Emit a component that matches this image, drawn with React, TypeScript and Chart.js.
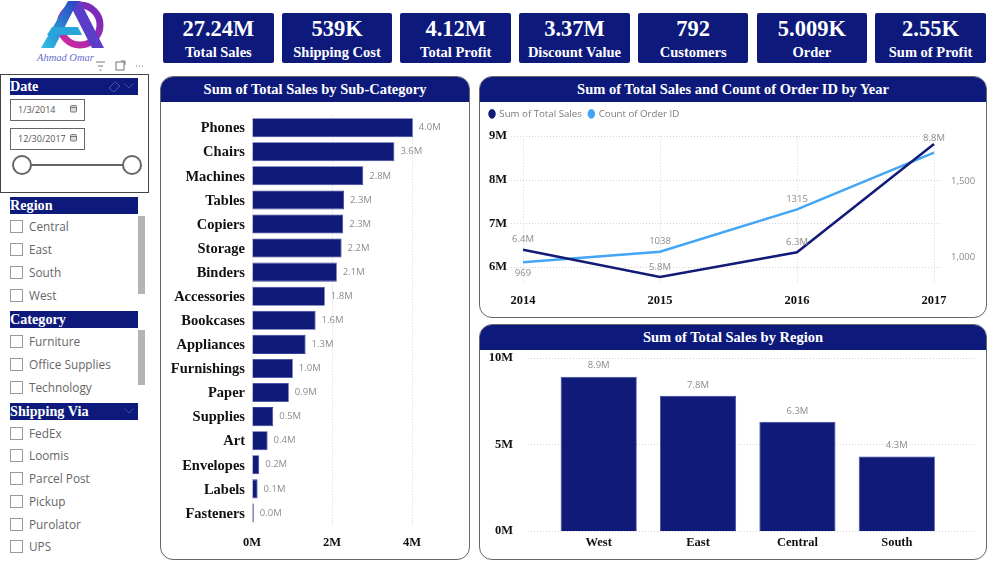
import React, { useEffect, useRef } from 'react';
import Chart, { ChartConfiguration } from 'chart.js/auto';

const NAVY = '#0d1a7c';
const BAR = '#101a78';
const SERIF = '"Liberation Serif", serif';
const SANS = '"Open Sans", sans-serif';
const LABEL_GRAY = '#8c8c8c';

const kpiValues = ['27.24M', '539K', '4.12M', '3.37M', '792', '5.009K', '2.55K'];
const kpiNames = ['Total Sales', 'Shipping Cost', 'Total Profit', 'Discount Value', 'Customers', 'Order', 'Sum of Profit'];

const regionItems = ['Central', 'East', 'South', 'West'];
const categoryItems = ['Furniture', 'Office Supplies', 'Technology'];
const shippingItems = ['FedEx', 'Loomis', 'Parcel Post', 'Pickup', 'Purolator', 'UPS'];

const subCategories = ['Phones', 'Chairs', 'Machines', 'Tables', 'Copiers', 'Storage', 'Binders', 'Accessories', 'Bookcases', 'Appliances', 'Furnishings', 'Paper', 'Supplies', 'Art', 'Envelopes', 'Labels', 'Fasteners'];
const subCategorySales = [4.02, 3.56, 2.78, 2.3, 2.28, 2.24, 2.12, 1.82, 1.59, 1.34, 1.02, 0.92, 0.53, 0.39, 0.18, 0.14, 0.045];

const years = ['2014', '2015', '2016', '2017'];
const yearSales = [6.4, 5.78, 6.34, 8.81];
const yearOrders = [969, 1038, 1315, 1687];
const orderTicks = [1000, 1500];

const regions = ['West', 'East', 'Central', 'South'];
const regionSales = [8.9, 7.8, 6.3, 4.3];

const millions = (v: number) => `${v.toFixed(1)}M`;

// grey value labels, one set per dataset
const valueLabels = {
    id: 'valueLabels',
    afterDatasetsDraw(chart: any, _args: any, opts: any) {
        const { ctx, chartArea } = chart;
        ctx.save();
        ctx.font = `9.5px ${SANS}`;
        ctx.fillStyle = LABEL_GRAY;
        ctx.textBaseline = 'middle';
        chart.data.datasets.forEach((ds: any, di: number) => {
            const fmt = opts.formats[di];
            chart.getDatasetMeta(di).data.forEach((el: any, i: number) => {
                const text = fmt(ds.data[i], i);
                if (!text) return;
                if (opts.mode === 'right') {
                    ctx.textAlign = 'left';
                    ctx.fillText(text, el.x + 6, el.y);
                } else if (opts.mode === 'above') {
                    ctx.textAlign = 'center';
                    ctx.fillText(text, el.x, el.y - 11);
                } else {
                    const below = opts.below && opts.below[di] === i;
                    ctx.textAlign = 'center';
                    ctx.fillText(text, el.x, below ? el.y + 11 : Math.max(chartArea.top + 3, el.y - 10));
                }
            });
        });
        ctx.restore();
    }
};

// dotted y grid that runs a bit past the plot area
const wideGrid = {
    id: 'wideGrid',
    beforeDatasetsDraw(chart: any, _args: any, opts: any) {
        const { ctx, chartArea, scales } = chart;
        ctx.save();
        ctx.strokeStyle = '#d4d4d4';
        ctx.lineWidth = 1;
        ctx.setLineDash([1, 2]);
        scales.y.ticks.forEach((t: any) => {
            const y = Math.round(scales.y.getPixelForValue(t.value)) + 0.5;
            ctx.beginPath();
            ctx.moveTo(chartArea.left - opts.left, y);
            ctx.lineTo(chartArea.right + opts.right, y);
            ctx.stroke();
        });
        ctx.restore();
    }
};

// legend needs more room under it than its own padding gives
const legendGap = {
    id: 'legendGap',
    beforeInit(chart: any) {
        const fit = chart.legend.fit;
        chart.legend.fit = function () {
            fit.call(this);
            this.height += 7;
        };
    }
};

const axisFont = { family: SERIF, weight: 'bold' as const, size: 12.5 };
// tick length pushes the labels out, tick padding would also eat the plot height
const hiddenTicks = (tickLength: number) => ({ display: false, drawOnChartArea: false, drawTicks: true, tickLength, tickColor: 'transparent' });
const noBorder = { display: false };

const subCategoryConfig: ChartConfiguration<'bar'> = {
    type: 'bar',
    data: {
        labels: subCategories,
        datasets: [{
            data: subCategorySales,
            backgroundColor: BAR,
            borderColor: '#35429f',
            borderWidth: 0.8,
            barPercentage: 0.79,
            categoryPercentage: 1
        }]
    },
    options: {
        indexAxis: 'y',
        responsive: false,
        animation: false,
        layout: { padding: { top: 13.6, right: 41 } },
        plugins: {
            legend: { display: false },
            tooltip: { enabled: false },
            valueLabels: { mode: 'right', formats: [millions] }
        } as any,
        scales: {
            x: {
                min: 0,
                max: 4.4,
                afterFit: (s: any) => { s.height = 34; },
                grid: { color: '#d4d4d4', drawTicks: true, tickLength: 10, tickColor: 'transparent' },
                border: { display: false, dash: [1, 2] },
                ticks: { stepSize: 2, includeBounds: false, padding: 0, color: '#111', font: axisFont, callback: (v: any) => `${v}M` }
            },
            y: {
                afterFit: (s: any) => { s.width = 91; },
                grid: { drawOnChartArea: false, drawTicks: true, tickLength: 7, tickColor: 'transparent' },
                border: noBorder,
                ticks: { autoSkip: false, padding: 0, labelOffset: 1, color: '#111', font: { family: SERIF, weight: 'bold', size: 14.5 } }
            }
        }
    },
    plugins: [valueLabels]
};

const yearConfig: ChartConfiguration<'line'> = {
    type: 'line',
    data: {
        labels: years,
        datasets: [
            {
                label: 'Sum of Total Sales',
                data: yearSales,
                yAxisID: 'y',
                borderColor: '#131a78',
                backgroundColor: '#131a78',
                borderWidth: 2.5,
                pointRadius: 0,
                tension: 0
            },
            {
                label: 'Count of Order ID',
                data: yearOrders,
                yAxisID: 'y1',
                borderColor: '#42a5f5',
                backgroundColor: '#42a5f5',
                borderWidth: 2.5,
                pointRadius: 0,
                tension: 0
            }
        ]
    },
    options: {
        responsive: false,
        animation: false,
        layout: { padding: { left: 2.5 } },
        plugins: {
            legend: {
                display: true,
                position: 'top',
                align: 'start',
                labels: {
                    usePointStyle: true,
                    pointStyle: 'circle',
                    boxHeight: 5,
                    pointStyleWidth: 5,
                    padding: 7,
                    color: '#7a7a7a',
                    font: { family: SANS, size: 9.7 }
                }
            },
            tooltip: { enabled: false },
            wideGrid: { left: 12, right: 7 },
            valueLabels: {
                mode: 'line',
                below: [-1, 0],
                formats: [millions, (v: number, i: number) => (i === 3 ? '' : String(v))]
            }
        } as any,
        scales: {
            x: {
                afterFit: (s: any) => { s.height = 34; },
                grid: { color: '#d4d4d4', drawTicks: true, tickLength: 10, tickColor: 'transparent' },
                border: { display: false, dash: [1, 2] },
                ticks: { padding: 0, color: '#111', font: axisFont }
            },
            y: {
                min: 5.64,
                max: 9,
                afterFit: (s: any) => { s.width = 40.5; },
                grid: hiddenTicks(16),
                border: noBorder,
                ticks: { stepSize: 1, includeBounds: false, padding: 0, color: '#111', font: axisFont, callback: (v: any) => `${v}M` }
            },
            y1: {
                position: 'right',
                min: 833,
                max: 1798,
                afterBuildTicks: (s: any) => { s.ticks = orderTicks.map((value) => ({ value })); },
                afterFit: (s: any) => { s.width = 52; },
                grid: hiddenTicks(17),
                border: noBorder,
                ticks: { padding: 0, color: LABEL_GRAY, font: { family: SANS, size: 9.5 }, callback: (v: any) => Number(v).toLocaleString('en-US') }
            }
        }
    },
    plugins: [legendGap, wideGrid, valueLabels]
};

const regionConfig: ChartConfiguration<'bar'> = {
    type: 'bar',
    data: {
        labels: regions,
        datasets: [{
            data: regionSales,
            backgroundColor: BAR,
            borderColor: '#35429f',
            borderWidth: 0.8,
            barPercentage: 0.766,
            categoryPercentage: 1
        }]
    },
    options: {
        responsive: false,
        animation: false,
        layout: { padding: { top: 7.7, right: 39.5 } },
        plugins: {
            legend: { display: false },
            tooltip: { enabled: false },
            wideGrid: { left: 21, right: 29 },
            valueLabels: { mode: 'above', formats: [millions] }
        } as any,
        scales: {
            x: {
                afterFit: (s: any) => { s.height = 28; },
                grid: hiddenTicks(4),
                border: noBorder,
                ticks: { padding: 0, color: '#111', font: axisFont }
            },
            y: {
                min: 0,
                max: 10,
                afterFit: (s: any) => { s.width = 69; },
                grid: hiddenTicks(36),
                border: noBorder,
                ticks: { stepSize: 5, padding: 0, color: '#111', font: axisFont, callback: (v: any) => `${v}M` }
            }
        }
    },
    plugins: [wideGrid, valueLabels]
};

const ChartCanvas: React.FC<{ config: ChartConfiguration<any>; width: number; height: number }> = ({ config, width, height }) => {
    const canvasRef = useRef<HTMLCanvasElement>(null);

    useEffect(() => {
        const ctx = canvasRef.current?.getContext('2d');
        if (!ctx) return;
        const chart = new Chart(ctx, config);
        return () => chart.destroy();
    }, [config]);

    return <canvas ref={canvasRef} width={width} height={height} style={{ position: 'absolute', left: -0.5, top: 24.5, width, height }} />;
};

const box = (left: number, top: number, width: number, height: number): React.CSSProperties => ({
    position: 'absolute', left, top, width, height, boxSizing: 'border-box'
});

const ChartCard: React.FC<{ title: string; left: number; top: number; width: number; height: number; config: ChartConfiguration<any> }> = ({ title, left, top, width, height, config }) => (
    <div style={{ ...box(left, top, width, height), border: '1.5px solid #666', borderRadius: 13, overflow: 'hidden', background: '#fff' }}>
        <div style={{ height: 24.5, lineHeight: '25px', background: NAVY, color: '#fff', textAlign: 'center', fontFamily: SERIF, fontWeight: 700, fontSize: 14.5 }}>{title}</div>
        <ChartCanvas config={config} width={width - 2} height={height - 27} />
    </div>
);

const SlicerTitle: React.FC<{ title: string; top: number; chevron?: boolean; eraser?: boolean }> = ({ title, top, chevron, eraser }) => (
    <div style={{ ...box(10, top, 128, 17), background: NAVY, color: '#fff', fontFamily: SERIF, fontWeight: 700, fontSize: 14.2, lineHeight: '16px' }}>
        {title}
        {eraser && (
            <svg width="14" height="14" style={{ position: 'absolute', right: 16, top: 2 }}>
                <path d="M1 8 L7 2 L12 6 L6 12 Z" fill="none" stroke="#4a56a6" strokeWidth="1" />
            </svg>
        )}
        {chevron && (
            <svg width="10" height="6" style={{ position: 'absolute', right: 4, top: 5 }}>
                <path d="M0.5 0.5 L5 5 L9.5 0.5" fill="none" stroke="#3d4a9e" strokeWidth="1" />
            </svg>
        )}
    </div>
);

const CheckList: React.FC<{ items: string[]; first: number; step: number }> = ({ items, first, step }) => (
    <>
        {items.map((item, i) => (
            <React.Fragment key={item}>
                <div style={{ ...box(10, first + i * step - 6.5, 13, 13), border: '1px solid #9a9a9a', background: '#fff' }} />
                <div style={{ position: 'absolute', left: 29, top: first + i * step - 9.5, lineHeight: '18px', fontFamily: SANS, fontSize: 11.8, color: '#666', whiteSpace: 'nowrap' }}>{item}</div>
            </React.Fragment>
        ))}
    </>
);

const DateBox: React.FC<{ text: string; top: number }> = ({ text, top }) => (
    <div style={{ ...box(10, top, 75, 22), border: '1px solid #666', fontFamily: SANS, fontSize: 9, lineHeight: '20px', color: '#555', paddingLeft: 7 }}>
        {text}
        <svg width="8" height="8" style={{ position: 'absolute', right: 6, top: 5 }}>
            <rect x="0.5" y="0.5" width="6" height="6.5" rx="1" fill="#ddd" stroke="#777" />
            <line x1="0.5" y1="2.5" x2="6.5" y2="2.5" stroke="#777" />
        </svg>
    </div>
);

const Logo: React.FC = () => (
    <svg width="70" height="52" viewBox="0 0 70 52" style={{ position: 'absolute', left: 38, top: 0 }}>
        <defs>
            <linearGradient id="legLeft" x1="0" y1="1" x2="1" y2="0">
                <stop offset="0" stopColor="#2ec4e6" />
                <stop offset="1" stopColor="#2a3fc0" />
            </linearGradient>
            <linearGradient id="ring" x1="0" y1="1" x2="1" y2="0">
                <stop offset="0" stopColor="#d5289a" />
                <stop offset="1" stopColor="#6a2bc0" />
            </linearGradient>
        </defs>
        <circle cx="42" cy="25" r="20" fill="none" stroke="url(#ring)" strokeWidth="7" />
        <path d="M30 1 L42 1 L66 48 L54 48 Z" fill="#5b3ec8" />
        <path d="M30 1 L40 1 L16 48 L3 48 Z" fill="url(#legLeft)" />
        <path d="M14 27 L40 27 L44 35 L9 35 Z" fill="#2aa5dc" />
    </svg>
);

const App: React.FC = () => (
    <div style={{ position: 'absolute', left: 0, top: 0, width: 1000, height: 561, overflow: 'hidden', background: '#fff' }}>
        <Logo />
        <div style={{ position: 'absolute', left: 37, top: 51, fontFamily: SERIF, fontStyle: 'italic', fontSize: 10.5, lineHeight: '13px', color: '#6a70cc', whiteSpace: 'nowrap' }}>Ahmad Omar</div>
        <svg width="52" height="12" style={{ position: 'absolute', left: 94, top: 60 }} fill="none" stroke="#777" strokeWidth="1">
            <path d="M2 2 H11 M4 6 H9 M5.5 10 H7.5" />
            <rect x="22" y="2" width="8" height="8" />
            <path d="M27 1 H31 V5" />
            <path d="M42 6 H43 M45 6 H46 M48 6 H49" />
        </svg>

        {kpiValues.map((value, i) => (
            <div key={kpiNames[i]} style={{ ...box(163 + i * 118.7, 13, 110.7, 49.5), background: NAVY, borderRadius: 2, color: '#fff', textAlign: 'center', fontFamily: SERIF, fontWeight: 700 }}>
                <div style={{ fontSize: 22.5, lineHeight: '24px', marginTop: 4 }}>{value}</div>
                <div style={{ fontSize: 14.5, lineHeight: '17px', marginTop: 3 }}>{kpiNames[i]}</div>
            </div>
        ))}

        <div style={{ ...box(0, 74, 149, 119), border: '1px solid #444' }} />
        <SlicerTitle title="Date" top={78} chevron eraser />
        <DateBox text="1/3/2014" top={99} />
        <DateBox text="12/30/2017" top={127.5} />
        <div style={{ ...box(22, 163.5, 110, 2), background: '#666' }} />
        <div style={{ ...box(12, 154.5, 20, 20), border: '2px solid #666', borderRadius: '50%', background: '#fff' }} />
        <div style={{ ...box(122, 154.5, 20, 20), border: '2px solid #666', borderRadius: '50%', background: '#fff' }} />

        <SlicerTitle title="Region" top={197} />
        <CheckList items={regionItems} first={226.7} step={23} />
        <div style={{ ...box(138, 216, 6.5, 78), background: '#b4b4b4' }} />

        <SlicerTitle title="Category" top={311} />
        <CheckList items={categoryItems} first={341.7} step={22.8} />
        <div style={{ ...box(138, 330, 6.5, 55), background: '#b4b4b4' }} />

        <SlicerTitle title="Shipping Via" top={403} chevron />
        <CheckList items={shippingItems} first={433} step={22.75} />

        <ChartCard title="Sum of Total Sales by Sub-Category" left={160} top={76} width={310} height={484} config={subCategoryConfig} />
        <ChartCard title="Sum of Total Sales and Count of Order ID by Year" left={479} top={76} width={508} height={242} config={yearConfig} />
        <ChartCard title="Sum of Total Sales by Region" left={479} top={324} width={508} height={236} config={regionConfig} />
    </div>
);

export default App;
